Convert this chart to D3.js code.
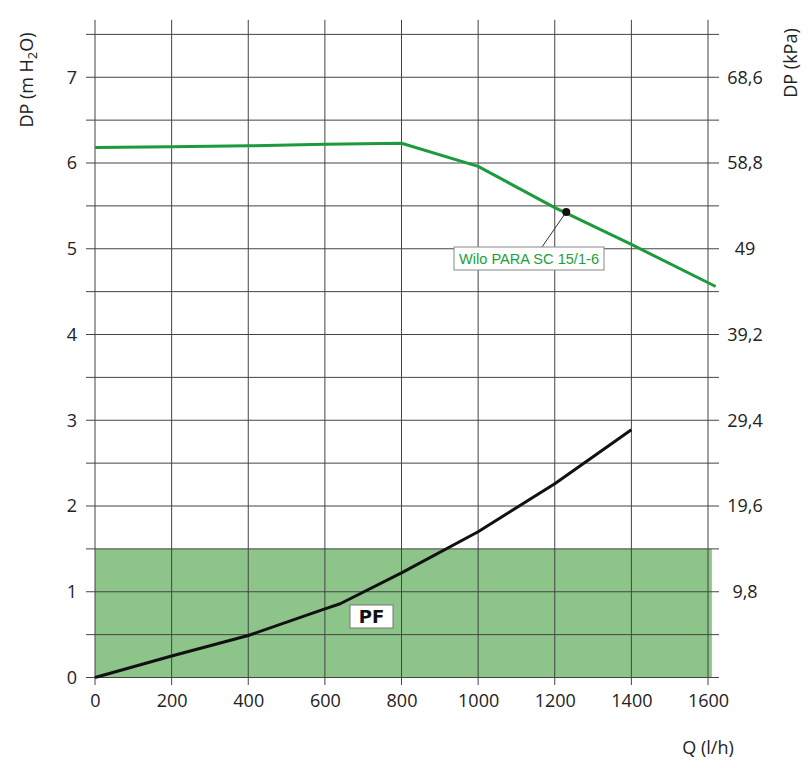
<!DOCTYPE html>
<html>
<head>
<meta charset="utf-8">
<title>Wilo PARA SC 15/1-6</title>
<script src="https://cdn.jsdelivr.net/npm/d3@7/dist/d3.min.js"></script>
<style>
  body { margin: 0; background: #fff; }
  svg text { font-family: "Open Sans", sans-serif; fill: #222; }
  .grid line { stroke: #444; stroke-width: 1; }
</style>
</head>
<body>
<svg id="chart" width="810" height="768"></svg>
<script>
// axis ticks
const qTicks = [0, 200, 400, 600, 800, 1000, 1200, 1400, 1600];
const dpTicks = [0, 1, 2, 3, 4, 5, 6, 7];
const kpaLabels = ["", "9,8", "19,6", "29,4", "39,2", "49", "58,8", "68,6"];

// pump curve (Wilo PARA SC 15/1-6)
const pumpQ  = [0, 200, 400, 600, 800, 1000, 1200, 1400, 1620];
const pumpDP = [6.18, 6.19, 6.20, 6.22, 6.23, 5.96, 5.48, 5.05, 4.56];

// system curve
const pipeQ  = [0, 200, 400, 600, 640, 800, 1000, 1200, 1400];
const pipeDP = [0, 0.25, 0.49, 0.80, 0.86, 1.22, 1.70, 2.26, 2.89];

// PF zone
const zoneQ = [0, 1610];
const zoneDP = [0, 1.5];

const pumpLabel = "Wilo PARA SC 15/1-6";
const pumpMarkQ = 1230, pumpMarkDP = 5.43;

const svg = d3.select("#chart");
const x = d3.scaleLinear().domain([0, 1600]).range([95, 708]);
const y = d3.scaleLinear().domain([0, 7]).range([677.5, 77.25]);
const fs = 18;

// green zone
svg.append("rect")
  .attr("x", x(zoneQ[0])).attr("y", y(zoneDP[1]))
  .attr("width", x(zoneQ[1]) - x(zoneQ[0]))
  .attr("height", y(zoneDP[0]) - y(zoneDP[1]))
  .attr("fill", "#8cc48a");

// grid
const grid = svg.append("g").attr("class", "grid");
grid.selectAll("line.h")
  .data(d3.range(0, 7.51, 0.5))
  .join("line").attr("class", "h")
  .attr("x1", 86).attr("x2", 719)
  .attr("y1", d => y(d)).attr("y2", d => y(d));
grid.selectAll("line.v")
  .data(qTicks)
  .join("line").attr("class", "v")
  .attr("x1", d => x(d)).attr("x2", d => x(d))
  .attr("y1", y(7.67)).attr("y2", 685);

// x axis labels
const xAxis = svg.append("g")
  .attr("transform", `translate(0,${y(0) + 17})`)
  .call(d3.axisBottom(x).tickValues(qTicks).tickSize(0).tickPadding(0)
    .tickFormat(d3.format("d")));
xAxis.select(".domain").remove();
xAxis.selectAll("text").attr("font-size", fs).style("fill", "#222");

// left axis labels
const yAxis = svg.append("g")
  .attr("transform", "translate(77,0)")
  .call(d3.axisLeft(y).tickValues(dpTicks).tickSize(0).tickPadding(0)
    .tickFormat(d3.format("d")));
yAxis.select(".domain").remove();
yAxis.selectAll("text").attr("font-size", fs).style("fill", "#222");

// right axis labels (kPa)
const yRight = svg.append("g")
  .attr("transform", "translate(745,0)")
  .call(d3.axisRight(y).tickValues(dpTicks).tickSize(0).tickPadding(0)
    .tickFormat((d, i) => kpaLabels[i]));
yRight.select(".domain").remove();
yRight.selectAll("text").attr("font-size", fs).style("fill", "#222")
  .attr("text-anchor", "middle");

// axis titles
const lt = svg.append("text")
  .attr("transform", "translate(33,80) rotate(-90)")
  .attr("text-anchor", "middle").attr("font-size", fs);
lt.append("tspan").text("DP (m H");
lt.append("tspan").text("2").attr("font-size", 13).attr("dy", 4);
lt.append("tspan").text("O)").attr("dy", -4);

svg.append("text")
  .attr("transform", "translate(797,63) rotate(-90)")
  .attr("text-anchor", "middle").attr("font-size", fs)
  .text("DP (kPa)");

svg.append("text")
  .attr("x", 708).attr("y", 754)
  .attr("text-anchor", "middle").attr("font-size", fs)
  .text("Q (l/h)");

const line = d3.line().x(d => x(d[0])).y(d => y(d[1]));

// system curve
svg.append("path")
  .datum(d3.zip(pipeQ, pipeDP))
  .attr("d", line)
  .attr("fill", "none").attr("stroke", "#111").attr("stroke-width", 3)
  .attr("stroke-linejoin", "round");

// pump curve
svg.append("path")
  .datum(d3.zip(pumpQ, pumpDP))
  .attr("d", line)
  .attr("fill", "none").attr("stroke", "#1c9a3c").attr("stroke-width", 3)
  .attr("stroke-linejoin", "round");

// PF label
const pfx = 350, pfy = 605;
svg.append("rect").attr("x", pfx).attr("y", pfy).attr("width", 43).attr("height", 23)
  .attr("fill", "#fff").attr("stroke", "#777").attr("stroke-width", 1);
svg.append("text").attr("x", pfx + 21.5).attr("y", pfy + 18)
  .attr("text-anchor", "middle").attr("font-size", 18)
  .style("font-family", "'DejaVu Sans', sans-serif").style("font-weight", 900)
  .style("fill", "#111")
  .text("PF");

// pump label with leader
const mx = x(pumpMarkQ), my = y(pumpMarkDP);
svg.append("line").attr("x1", mx).attr("y1", my).attr("x2", 542).attr("y2", 247)
  .attr("stroke", "#333").attr("stroke-width", 1);
svg.append("circle").attr("cx", mx).attr("cy", my).attr("r", 4).attr("fill", "#111");
svg.append("rect").attr("x", 454).attr("y", 247).attr("width", 150).attr("height", 23)
  .attr("fill", "#fff").attr("stroke", "#888").attr("stroke-width", 1);
svg.append("text").attr("x", 529).attr("y", 264)
  .attr("text-anchor", "middle").attr("font-size", 14.5)
  .attr("textLength", 140).attr("lengthAdjust", "spacingAndGlyphs")
  .style("font-family", "'Liberation Sans', Arial, sans-serif")
  .style("fill", "#1aa03c")
  .text(pumpLabel);
</script>
</body>
</html>
